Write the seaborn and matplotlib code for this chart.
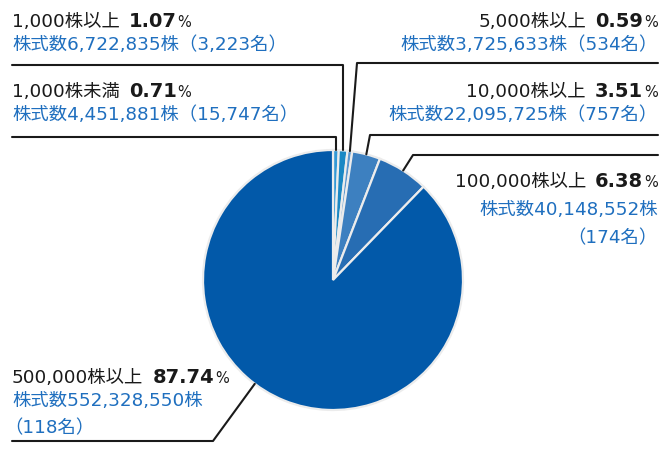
import numpy as np
import matplotlib
matplotlib.use('Agg')
import matplotlib.pyplot as plt
import seaborn as sns
from matplotlib.lines import Line2D

# Data (clockwise from 12 o'clock)
categories = ['1,000株未満', '1,000株以上', '5,000株以上', '10,000株以上', '100,000株以上', '500,000株以上']
ratios = [0.71, 1.07, 0.59, 3.51, 6.38, 87.74]
shares = ['4,451,881', '6,722,835', '3,725,633', '22,095,725', '40,148,552', '552,328,550']
holders = ['15,747', '3,223', '534', '757', '174', '118']
colors = ['#3399d6', '#1a88c4', '#5a98d0', '#3d80c0', '#276db3', '#0259a9']

sns.set_theme(style='white')
plt.rcParams['font.family'] = ['DejaVu Sans', 'Noto Sans CJK JP']

W, H = 670, 450
BLACK = '#1a1a1a'
BLUE = '#1f6fbf'
FS = 13.2

fig = plt.figure(figsize=(6.7, 4.5), dpi=100)
cx, cy, r = 333, 280, 130
ax = fig.add_axes([(cx - r) / W, (H - cy - r) / H, 2 * r / W, 2 * r / H])
ax.pie(ratios, colors=colors, startangle=90, counterclock=False, radius=1,
       wedgeprops=dict(edgecolor='#ececec', linewidth=1.6))
ax.set_xlim(-1, 1)
ax.set_ylim(-1, 1)
ax.axis('off')

# angles (deg, clockwise from top) of the slice middles
cum = np.cumsum([0] + ratios[:-1])
mids = (cum + np.array(ratios) / 2) * 3.6
leader_ang = mids.copy()
leader_ang[5] = 217


def edge(ang):
    th = np.deg2rad(90 - ang)
    return cx + r * np.cos(th), cy - r * np.sin(th)


# leader line elbows in pixels
elbows = [
    [(12, 137), (336, 137)],
    [(12, 65), (343, 65)],
    [(658, 63), (357, 63)],
    [(658, 135), (370, 135)],
    [(658, 155), (413, 155)],
    [(12, 441), (213, 441)],
]
for i, pts in enumerate(elbows):
    ex, ey = edge(leader_ang[i])
    if i in (0, 1):
        ex = pts[-1][0]
    xs = [p[0] for p in pts] + [ex]
    ys = [p[1] for p in pts] + [ey]
    fig.add_artist(Line2D(np.array(xs) / W, 1 - np.array(ys) / H,
                          transform=fig.transFigure, color=BLACK, lw=1.5))

rend = fig.canvas.get_renderer()


def rich(x, y, parts, ha='left'):
    arts = []
    for s, size, weight, color, gap in parts:
        t = fig.text(0, 1 - y / H, s, fontsize=size, fontweight=weight,
                     color=color, va='baseline', ha='left')
        arts.append((t, gap))
    widths = [t.get_window_extent(rend).width + g for t, g in arts]
    x0 = x - sum(widths) if ha == 'right' else x
    for (t, g), w in zip(arts, widths):
        t.set_x(x0 / W)
        x0 += w


# label layout: x, ha, black baseline, blue lines with baselines
label_pos = [
    (12, 'left', 97, [120]),
    (12, 'left', 27, [50]),
    (658, 'right', 27, [50]),
    (658, 'right', 97, [120]),
    (658, 'right', 187, [215, 243]),
    (12, 'left', 383, [406, 433]),
]

for i, (x, ha, yb, blues) in enumerate(label_pos):
    rich(x, yb, [
        (categories[i], FS, 'normal', BLACK, 9),
        (f'{ratios[i]:.2f}', 14, 'bold', BLACK, 1),
        ('%', 10.5, 'normal', BLACK, 0),
    ], ha=ha)
    if len(blues) == 1:
        lines = [f'株式数{shares[i]}株（{holders[i]}名）']
    else:
        lines = [f'株式数{shares[i]}株', f'（{holders[i]}名）']
    for s, yy in zip(lines, blues):
        xx = x - 8 if (ha == 'left' and s.startswith('（')) else x
        rich(xx, yy, [(s, FS, 'normal', BLUE, 0)], ha=ha)

fig.savefig('out.png', dpi=100, facecolor='white')
